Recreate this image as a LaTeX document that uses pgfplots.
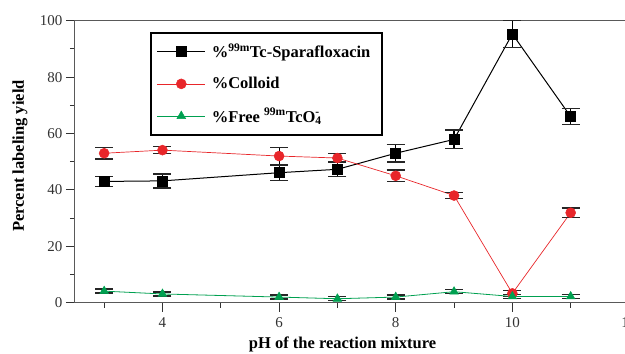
\documentclass[border=0pt]{standalone}
\usepackage{pgfplots}
\pgfplotsset{compat=1.18}
\usepackage{fontspec}
\setmainfont{Liberation Serif}
\definecolor{cred}{HTML}{E8262A}
\definecolor{cgreen}{HTML}{00A050}
\begin{document}
\begin{tikzpicture}
\begin{axis}[
 at={(0,0)}, anchor=south west,
 scale only axis, width=554pt, height=282pt,
 xmin=2.5, xmax=12, ymin=0, ymax=100,
 xtick={4,6,8,10,12}, minor xtick={3,5,7,9,11},
 ytick={0,20,...,100}, minor ytick={10,30,50,70,90},
 tick align=outside, xtick pos=bottom, ytick pos=left,
 major tick length=9pt, minor tick length=5pt,
 tick style={black!80, line width=0.9pt},
 axis line style={black!65, line width=1pt},
 /pgf/number format/assume math mode=true,
 ticklabel style={font=\fontsize{15}{15}\selectfont, text=black!80},
 xticklabel style={yshift=-2pt},
 xlabel={pH of the reaction mixture}, ylabel={Percent labeling yield},
 label style={font=\fontsize{16.5}{18}\selectfont\bfseries},
 xlabel style={at={(axis description cs:0.483,0)}, anchor=center, yshift=-42pt},
 ylabel style={at={(axis description cs:0,0.52)}, anchor=center, yshift=55pt},
 legend cell align=left,
 legend style={at={(axis description cs:0.135,0.96)}, anchor=north west,
   draw=black, line width=2pt, font=\fontsize{16.5}{18}\selectfont\bfseries,
   row sep=14pt, inner xsep=6pt, inner ysep=9pt, nodes={inner xsep=6pt}},
 legend image code/.code={\draw[mark repeat=2,mark phase=2,#1] plot coordinates {(0pt,0pt) (24pt,0pt) (48pt,0pt)};},
 error bars/error bar style={black, line width=1.2pt},
 error bars/error mark options={rotate=90, mark size=9pt, line width=1.4pt, black!85},
]
\addplot[black, line width=1pt, mark=square*, mark size=5pt, mark options={fill=black, line width=0.5pt},
  error bars/.cd, y dir=both, y explicit]
  table[x index=0, y index=1, y error index=2] {
3 43.0 1.8
4 43.2 2.5
6 46.1 2.8
7 47.3 2.6
8 53.0 3.1
9 57.9 3.3
10 95.3 4.7
11 66.0 2.8
};
\addlegendentry{\%\textsuperscript{99m}Tc-Sparafloxacin}
\addplot[cred, line width=0.7pt, mark=*, mark size=5pt, mark options={fill=cred, draw=cred, line width=0.5pt},
  error bars/.cd, y dir=both, y explicit]
  table[x index=0, y index=1, y error index=2] {
3 53.0 2.0
4 54.1 1.2
6 52.0 3.0
7 51.3 1.6
8 45.0 2.0
9 38.0 1.0
10 3.3 1.0
11 31.9 1.7
};
\addlegendentry{\%Colloid}
\addplot[cgreen, line width=0.8pt, mark=triangle*, mark size=5pt, mark options={fill=cgreen, draw=cgreen, line width=0.5pt},
  error bars/.cd, y dir=both, y explicit]
  table[x index=0, y index=1, y error index=2] {
3 4.1 0.7
4 3.1 0.7
6 2.0 0.7
7 1.4 0.7
8 2.0 0.7
9 3.9 0.7
10 2.2 0.7
11 2.2 0.7
};
\addlegendentry{\%Free \textsuperscript{99m}TcO\rlap{\textsuperscript{-}}\textsubscript{4}}
\end{axis}
\pgfresetboundingbox
\useasboundingbox (-75pt,-51.3pt) rectangle (550pt,302.7pt);
\end{tikzpicture}
\end{document}
